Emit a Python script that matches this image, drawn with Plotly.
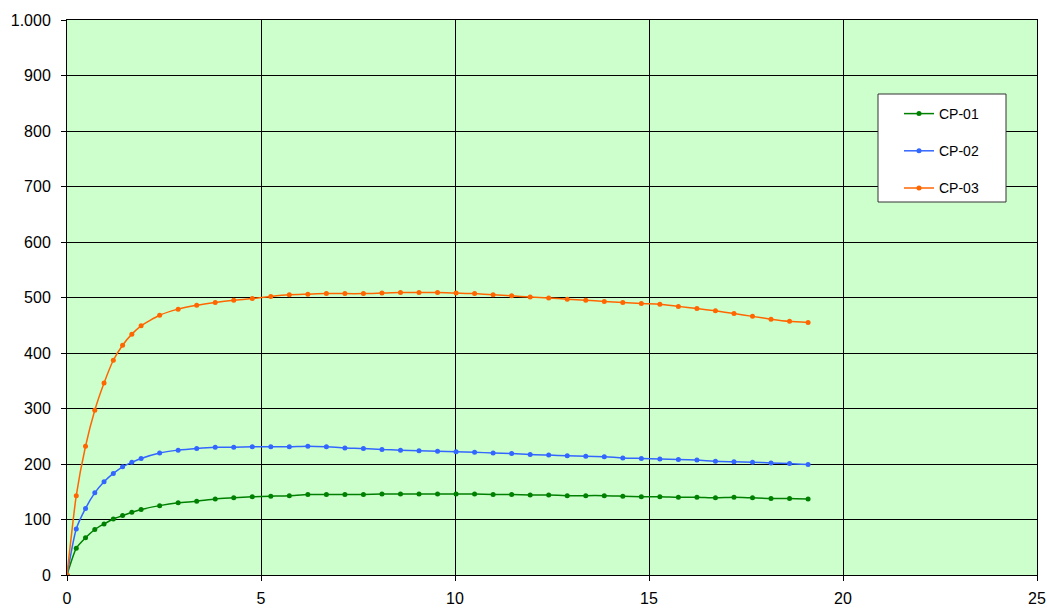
import plotly.graph_objects as go

# Time axis: fine steps at the start, then a coarser interval
step = 0.4775
time = [round(i * step / 2, 4) for i in range(9)] + [round(4 * step + k * step, 4) for k in range(1, 37)]

cp01 = [0, 48, 67, 82, 92, 101, 107, 113, 118, 125, 130, 133, 137, 139, 141, 142, 143, 145, 145, 145,
        145, 146, 146, 146, 146, 146, 146, 145, 145, 144, 144, 143, 143, 143, 142, 141, 141, 140, 140, 139,
        140, 139, 138, 138, 137]
cp02 = [0, 83, 120, 148, 168, 183, 195, 203, 210, 220, 225, 228, 230, 230, 231, 231, 231, 232, 231, 229,
        228, 226, 225, 224, 223, 222, 221, 220, 219, 217, 216, 215, 214, 213, 211, 210, 209, 208, 207, 205,
        204, 203, 202, 201, 199]
cp03 = [0, 143, 232, 297, 346, 387, 414, 434, 449, 468, 479, 486, 491, 495, 498, 502, 505, 506, 507, 507,
        507, 508, 509, 509, 509, 508, 507, 505, 503, 501, 499, 497, 495, 493, 491, 489, 488, 484, 480, 476,
        471, 466, 461, 457, 455]

names = ["CP-01", "CP-02", "CP-03"]
colors = ["#008000", "#3366FF", "#FF6600"]

y_ticks = [0, 100, 200, 300, 400, 500, 600, 700, 800, 900, 1000]
y_labels = ["0", "100", "200", "300", "400", "500", "600", "700", "800", "900", "1.000"]
x_ticks = [0, 5, 10, 15, 20, 25]

W, H = 1048, 609
ML, MR, MT, MB = 67, 11, 20, 34
PW, PH = W - ML - MR, H - MT - MB


def px_to_paper(xp, yp):
    return (xp - ML) / PW, (H - MB - yp) / PH


fig = go.Figure()
for name, vals, col in zip(names, [cp01, cp02, cp03], colors):
    fig.add_trace(go.Scatter(
        x=time, y=vals, name=name, legendgroup=name,
        mode="lines+markers",
        line=dict(color=col, width=1.5, shape="spline", smoothing=0.6),
        marker=dict(color=col, size=5),
    ))

font = dict(family="Liberation Sans, Arial, sans-serif", size=16, color="black")
axis_common = dict(
    showline=True, linecolor="black", linewidth=1, mirror=True,
    showgrid=True, gridcolor="black", gridwidth=1,
    zeroline=False, ticks="outside", ticklen=5, tickcolor="black",
    tickfont=font, automargin=False,
)

# Legend frame
bx0, by0 = px_to_paper(878, 202)
bx1, by1 = px_to_paper(1006, 94)
fig.add_shape(type="rect", xref="paper", yref="paper", x0=bx0, y0=by0, x1=bx1, y1=by1,
              fillcolor="white", line=dict(color="#333333", width=1), layer="above")

lx, ly = px_to_paper(899, 98)

fig.update_layout(
    width=W, height=H,
    margin=dict(l=ML, r=MR, t=MT, b=MB),
    paper_bgcolor="white",
    plot_bgcolor="#CCFFCC",
    xaxis=dict(range=[0, 25], tickvals=x_ticks, ticklabelstandoff=4, **axis_common),
    yaxis=dict(range=[0, 1000], tickvals=y_ticks, ticktext=y_labels, ticklabelstandoff=7, **axis_common),
    legend=dict(
        x=lx, y=ly, xanchor="left", yanchor="top",
        bgcolor="rgba(0,0,0,0)", borderwidth=0,
        font=dict(family="Liberation Sans, Arial, sans-serif", size=14, color="black"),
        traceorder="grouped", tracegroupgap=16,
    ),
    showlegend=True,
)

fig.write_html("out.html")
